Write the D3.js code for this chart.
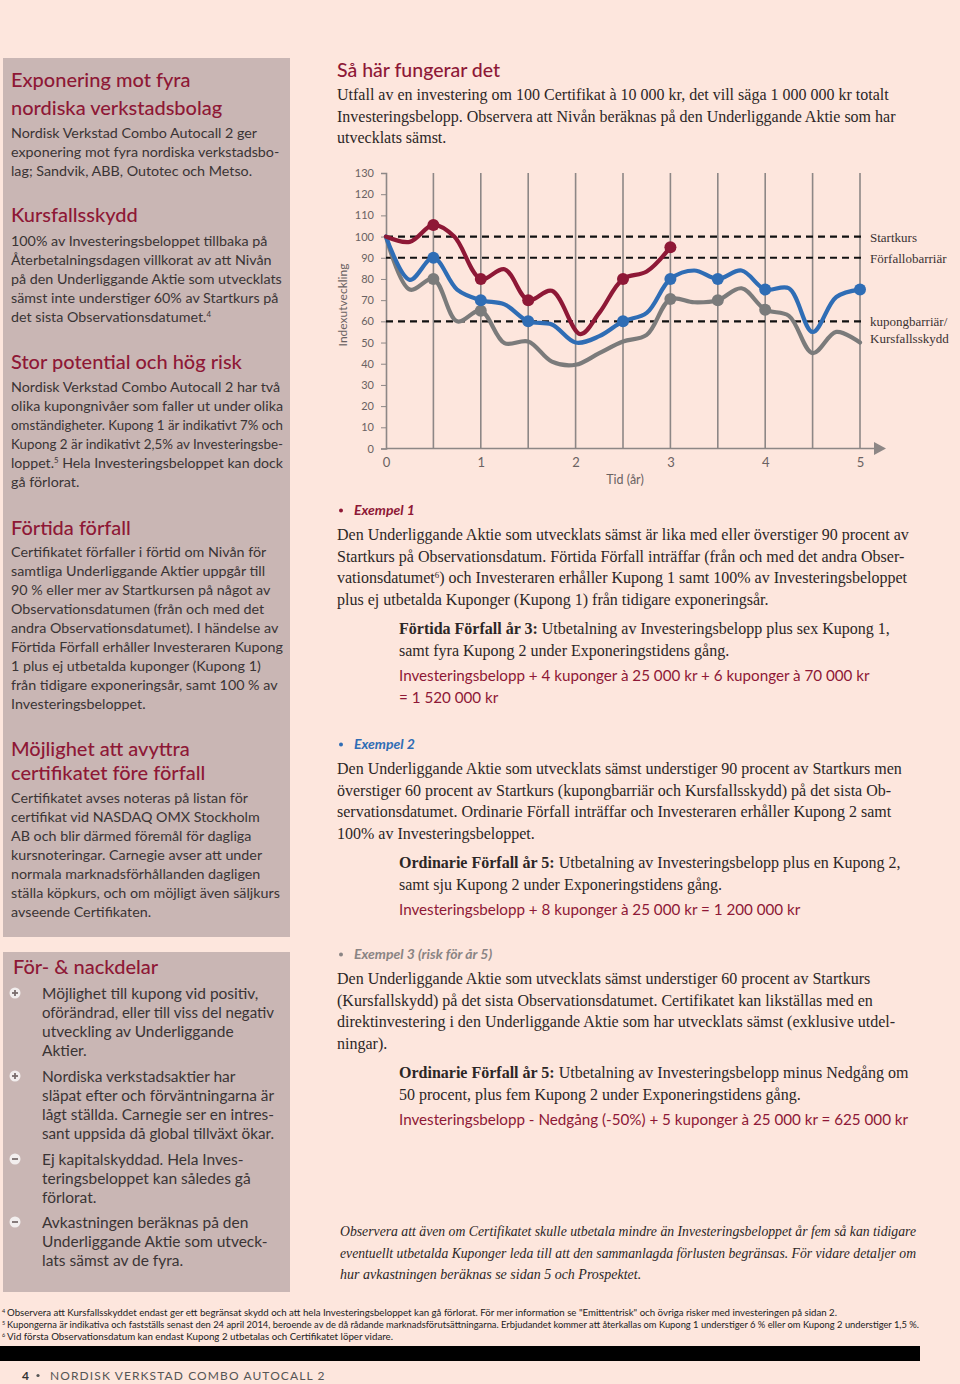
<!DOCTYPE html>
<html>
<head>
<meta charset="utf-8">
<script src="https://cdn.jsdelivr.net/npm/d3@7"></script>
<style>
  body { margin: 0; background: #fde6dd; }
  svg { display: block; }
</style>
</head>
<body>
<div id="page"></div>
<script>
// ---- chart data ----
var yTicks = [0, 10, 20, 30, 40, 50, 60, 70, 80, 90, 100, 110, 120, 130];
var xTicks = [0, 1, 2, 3, 4, 5];
var gridT = [0.5, 1, 1.5, 2, 2.5, 3, 3.5, 4, 4.5, 5];

var redT = [0, 0.25, 0.5, 0.72, 1, 1.25, 1.5, 1.75, 2.05, 2.25, 2.5, 2.75, 3];
var redV = [100, 97.5, 105.5, 100, 80, 84.6, 70, 74.4, 54, 64, 80, 83.5, 95];
var redMarks = [0.5, 1, 1.5, 2.5, 3];

var fullT = [0, 0.25, 0.5, 0.75, 1, 1.25, 1.5, 1.75, 2, 2.25, 2.5, 2.75, 3, 3.25, 3.5, 3.75, 4, 4.25, 4.5, 4.75, 5];
var blueV = [100, 79.6, 90, 75, 70, 68, 60, 58.5, 50, 53, 60, 64, 80, 84, 80, 84, 75, 75.6, 55, 71.5, 75];
var blueMarks = [0.5, 1, 1.5, 2.5, 3, 3.5, 4, 5];
var grayV = [100, 75, 80, 60, 65, 49.7, 50.5, 41, 39.5, 45, 50.5, 53.6, 70.5, 69, 70, 75.6, 65.5, 62.6, 45, 55, 50];
var grayMarks = [0.5, 1, 3, 3.5, 4];

var barriers = [100, 90, 60];
var barrierLabels = [["Startkurs"], ["Förfallobarriär"], ["kupongbarriär/", "Kursfallsskydd"]];

var RED = "#8e1836", BLUE = "#2f6db5", GRAY = "#7b7b7b";
var SANS = "'Gill Sans', Lato, 'Open Sans', sans-serif";
var SERIF = "'Liberation Serif', 'Times New Roman', serif";

var svg = d3.select("#page").append("svg")
  .attr("width", 960).attr("height", 1384);

svg.append("rect").attr("width", 960).attr("height", 1384).attr("fill", "#fde6dd");

// left panels
svg.append("rect").attr("x", 3).attr("y", 58).attr("width", 287).attr("height", 879).attr("fill", "#c9b6b4");
svg.append("rect").attr("x", 3).attr("y", 952).attr("width", 287).attr("height", 340).attr("fill", "#c9b6b4");

// text helper: each line either a string or list of segments
function block(g, x, y, dy, lines, st) {
  lines.forEach(function(line, i) {
    var t = g.append("text")
      .attr("x", x).attr("y", y + i * dy)
      .attr("font-family", st.family)
      .attr("font-size", st.size)
      .attr("fill", st.color)
      .attr("font-weight", st.weight || 400)
      .attr("font-style", st.style || "normal");
    if (typeof line === "string") line = [{t: line}];
    line.forEach(function(s) {
      var sp = t.append("tspan").text(s.t);
      if (s.b) sp.attr("font-weight", 700);
      if (s.i) sp.attr("font-style", "italic");
      if (s.c) sp.attr("fill", s.c);
      if (s.sup) sp.attr("font-size", st.size * 0.55).attr("baseline-shift", "super");
    });
    if (st.maxW) {
      var w = t.node().getComputedTextLength();
      if (w > st.maxW) t.attr("textLength", st.maxW).attr("lengthAdjust", "spacingAndGlyphs");
    }
  });
}

var hL = {family: SANS, size: 20, color: RED, weight: 500};
var bL = {family: SANS, size: 14.3, color: "#3a3434", maxW: 272};

block(svg, 11, 87, 28, ["Exponering mot fyra", "nordiska verkstadsbolag"], hL);
block(svg, 11, 138, 19, ["Nordisk Verkstad Combo Autocall 2 ger",
  "exponering mot fyra nordiska verkstadsbo-",
  "lag; Sandvik, ABB, Outotec och Metso."], bL);

block(svg, 11, 222, 28, ["Kursfallsskydd"], hL);
block(svg, 11, 246, 19, ["100% av Investeringsbeloppet tillbaka på",
  "Återbetalningsdagen villkorat av att Nivån",
  "på den Underliggande Aktie som utvecklats",
  "sämst inte understiger 60% av Startkurs på",
  [{t: "det sista Observationsdatumet."}, {t: "4", sup: true}]], bL);

block(svg, 11, 369, 28, ["Stor potential och hög risk"], hL);
block(svg, 11, 392, 19, ["Nordisk Verkstad Combo Autocall 2 har två",
  "olika kupongnivåer som faller ut under olika",
  "omständigheter. Kupong 1 är indikativt 7% och",
  "Kupong 2 är indikativt 2,5% av Investeringsbe-",
  [{t: "loppet."}, {t: "5", sup: true}, {t: " Hela Investeringsbeloppet kan dock"}],
  "gå förlorat."], bL);

block(svg, 11, 535, 28, ["Förtida förfall"], hL);
block(svg, 11, 557, 19, ["Certifikatet förfaller i förtid om Nivån för",
  "samtliga Underliggande Aktier uppgår till",
  "90 % eller mer av Startkursen på något av",
  "Observationsdatumen (från och med det",
  "andra Observationsdatumet). I händelse av",
  "Förtida Förfall erhåller Investeraren Kupong",
  "1 plus ej utbetalda kuponger (Kupong 1)",
  "från tidigare exponeringsår, samt 100 % av",
  "Investeringsbeloppet."], bL);

block(svg, 11, 756, 24, ["Möjlighet att avyttra", "certifikatet före förfall"], hL);
block(svg, 11, 803, 19, ["Certifikatet avses noteras på listan för",
  "certifikat vid NASDAQ OMX Stockholm",
  "AB och blir därmed föremål för dagliga",
  "kursnoteringar. Carnegie avser att under",
  "normala marknadsförhållanden dagligen",
  "ställa köpkurs, och om möjligt även säljkurs",
  "avseende Certifikaten."], bL);

block(svg, 13, 974, 28, ["För- & nackdelar"], hL);
var iL = {family: SANS, size: 15.5, color: "#3a3434", maxW: 232};
var items = [
  {sign: "+", y: 999, lines: ["Möjlighet till kupong vid positiv,", "oförändrad, eller till viss del negativ", "utveckling av Underliggande", "Aktier."]},
  {sign: "+", y: 1082, lines: ["Nordiska verkstadsaktier har", "släpat efter och förväntningarna är", "lågt ställda. Carnegie ser en intres-", "sant uppsida då global tillväxt ökar."]},
  {sign: "-", y: 1165, lines: ["Ej kapitalskyddad. Hela Inves-", "teringsbeloppet kan således gå", "förlorat."]},
  {sign: "-", y: 1228, lines: ["Avkastningen beräknas på den", "Underliggande Aktie som utveck-", "lats sämst av de fyra."]}
];
items.forEach(function(it) {
  var cy = it.y - 6;
  svg.append("circle").attr("cx", 15).attr("cy", cy).attr("r", 5.5).attr("fill", "#f2eeee");
  svg.append("line").attr("x1", 12).attr("x2", 18).attr("y1", cy).attr("y2", cy)
    .attr("stroke", "#7a6e6e").attr("stroke-width", 1.8);
  if (it.sign === "+") {
    svg.append("line").attr("x1", 15).attr("x2", 15).attr("y1", cy - 3).attr("y2", cy + 3)
      .attr("stroke", "#7a6e6e").attr("stroke-width", 1.8);
  }
  block(svg, 42, it.y, 19, it.lines, iL);
});

// ---- right column text ----
block(svg, 337, 77, 28, ["Så här fungerar det"], {family: SANS, size: 19.5, color: RED, weight: 500});
var sR = {family: SERIF, size: 16, color: "#2c2626", maxW: 582};
block(svg, 337, 100, 21.5, ["Utfall av en investering om 100 Certifikat à 10 000 kr, det vill säga 1 000 000 kr totalt",
  "Investeringsbelopp. Observera att Nivån beräknas på den Underliggande Aktie som har",
  "utvecklats sämst."], sR);

// ---- chart ----
var x = d3.scaleLinear().domain([0, 5]).range([386, 860]);
var y = d3.scaleLinear().domain([0, 130]).range([448.5, 173]);

var chart = svg.append("g");

chart.selectAll("line.grid").data(gridT).enter().append("line")
  .attr("class", "grid")
  .attr("x1", d => x(d)).attr("x2", d => x(d))
  .attr("y1", y(130)).attr("y2", y(0))
  .attr("stroke", "#8d8786").attr("stroke-width", 1.6);

var yAxis = chart.append("g")
  .attr("transform", "translate(" + x(0) + ",0)")
  .call(d3.axisLeft(y).tickValues(yTicks).tickSize(5).tickPadding(7));
yAxis.select(".domain").attr("stroke", "#8d8786").attr("stroke-width", 1.6);
yAxis.selectAll(".tick line").attr("stroke", "#8d8786");
yAxis.selectAll(".tick text").attr("fill", "#6a6262").attr("font-size", 11).attr("font-family", SANS);

var xAxis = chart.append("g")
  .attr("transform", "translate(0," + y(0) + ")")
  .call(d3.axisBottom(x).tickValues(xTicks).tickSize(0).tickPadding(9).tickFormat(d3.format("d")));
xAxis.select(".domain").remove();
xAxis.selectAll(".tick text").attr("fill", "#6a6262").attr("font-size", 13).attr("font-family", SANS);

chart.append("line").attr("x1", x(0)).attr("x2", 876).attr("y1", y(0)).attr("y2", y(0))
  .attr("stroke", "#8d8786").attr("stroke-width", 1.6);
chart.append("path").attr("d", "M874," + (y(0) - 6.5) + "L886," + y(0) + "L874," + (y(0) + 6.5) + "Z")
  .attr("fill", "#8d8786");

chart.append("text").attr("x", 625).attr("y", 484).attr("text-anchor", "middle")
  .attr("font-family", SANS).attr("font-size", 12.5).attr("fill", "#6a6262").text("Tid (år)");
chart.append("text").attr("transform", "translate(347,305) rotate(-90)").attr("text-anchor", "middle")
  .attr("font-family", SANS).attr("font-size", 12).attr("fill", "#6a6262").text("Indexutveckling");

// barriers
chart.selectAll("line.bar").data(barriers).enter().append("line")
  .attr("class", "bar")
  .attr("x1", x(0)).attr("x2", 864)
  .attr("y1", d => y(d)).attr("y2", d => y(d))
  .attr("stroke", "#111").attr("stroke-width", 2.2).attr("stroke-dasharray", "7,5");
barriers.forEach(function(b, i) {
  block(chart, 870, y(b) + 5, 17, barrierLabels[i], {family: SERIF, size: 13, color: "#3a3232"});
});

var line = d3.line().curve(d3.curveCatmullRom.alpha(0.5)).x(d => x(d[0])).y(d => y(d[1]));
function series(ts, vs, marks, color) {
  var pts = ts.map((t, i) => [t, vs[i]]);
  chart.append("path").datum(pts).attr("d", line)
    .attr("fill", "none").attr("stroke", color).attr("stroke-width", 4.2)
    .attr("stroke-linejoin", "round").attr("stroke-linecap", "round");
  chart.selectAll(null).data(pts.filter(p => marks.indexOf(p[0]) >= 0)).enter().append("circle")
    .attr("cx", d => x(d[0])).attr("cy", d => y(d[1])).attr("r", 6).attr("fill", color);
}
series(fullT, grayV, grayMarks, GRAY);
series(fullT, blueV, blueMarks, BLUE);
series(redT, redV, redMarks, RED);

// ---- examples ----
function example(yy, label, color, body, payLines, redLines) {
  svg.append("circle").attr("cx", 341).attr("cy", yy - 4.5).attr("r", 2).attr("fill", color);
  svg.append("text").attr("x", 354).attr("y", yy).attr("font-family", SANS).attr("font-size", 14)
    .attr("font-weight", 700).attr("font-style", "italic").attr("fill", color).text(label);
  block(svg, 337, yy + 25, 21.6, body, sR);
  var py = yy + 25 + 21.6 * body.length + 7.5;
  block(svg, 399, py, 21.6, payLines, {family: SERIF, size: 16, color: "#2c2626", maxW: 520});
  block(svg, 399, py + 21.6 * payLines.length + 4, 21.6, redLines, {family: SANS, size: 15.2, color: RED, maxW: 520});
}

example(515, "Exempel 1", RED, [
  "Den Underliggande Aktie som utvecklats sämst är lika med eller överstiger 90 procent av",
  "Startkurs på Observationsdatum. Förtida Förfall inträffar (från och med det andra Obser-",
  [{t: "vationsdatumet"}, {t: "6", sup: true}, {t: ") och Investeraren erhåller Kupong 1 samt 100% av Investeringsbeloppet"}],
  "plus ej utbetalda Kuponger (Kupong 1) från tidigare exponeringsår."],
  [[{t: "Förtida Förfall år 3:", b: true}, {t: " Utbetalning av Investeringsbelopp plus sex Kupong 1,"}],
   "samt fyra Kupong 2 under Exponeringstidens gång."],
  ["Investeringsbelopp + 4 kuponger à 25 000 kr + 6 kuponger à 70 000 kr", "= 1 520 000 kr"]);

example(749, "Exempel 2", BLUE, [
  "Den Underliggande Aktie som utvecklats sämst understiger 90 procent av Startkurs men",
  "överstiger 60 procent av Startkurs (kupongbarriär och Kursfallsskydd) på det sista Ob-",
  "servationsdatumet. Ordinarie Förfall inträffar och Investeraren erhåller Kupong 2 samt",
  "100% av Investeringsbeloppet."],
  [[{t: "Ordinarie Förfall år 5:", b: true}, {t: " Utbetalning av Investeringsbelopp plus en Kupong 2,"}],
   "samt sju Kupong 2 under Exponeringstidens gång."],
  ["Investeringsbelopp + 8 kuponger à 25 000 kr = 1 200 000 kr"]);

example(959, "Exempel 3 (risk för år 5)", "#8a8484", [
  "Den Underliggande Aktie som utvecklats sämst understiger 60 procent av Startkurs",
  "(Kursfallskydd) på det sista Observationsdatumet. Certifikatet kan likställas med en",
  "direktinvestering i den Underliggande Aktie som har utvecklats sämst (exklusive utdel-",
  "ningar)."],
  [[{t: "Ordinarie Förfall år 5:", b: true}, {t: " Utbetalning av Investeringsbelopp minus Nedgång om"}],
   "50 procent, plus fem Kupong 2 under Exponeringstidens gång."],
  ["Investeringsbelopp - Nedgång (-50%) + 5 kuponger à 25 000 kr = 625 000 kr"]);

block(svg, 340, 1236, 21.5, [
  "Observera att även om Certifikatet skulle utbetala mindre än Investeringsbeloppet år fem så kan tidigare",
  "eventuellt utbetalda Kuponger leda till att den sammanlagda förlusten begränsas. För vidare detaljer om",
  "hur avkastningen beräknas se sidan 5 och Prospektet."],
  {family: SERIF, size: 14, color: "#2c2626", style: "italic", maxW: 576});

// ---- footnotes & footer ----
var notes = [
  ["4", "Observera att Kursfallsskyddet endast ger ett begränsat skydd och att hela Investeringsbeloppet kan gå förlorat. För mer information se \"Emittentrisk\" och övriga risker med investeringen på sidan 2."],
  ["5", "Kupongerna är indikativa och fastställs senast den 24 april 2014, beroende av de då rådande marknadsförutsättningarna. Erbjudandet kommer att återkallas om Kupong 1 understiger 6 % eller om Kupong 2 understiger 1,5 %."],
  ["6", "Vid första Observationsdatum kan endast Kupong 2 utbetalas och Certifikatet löper vidare."]
];
var noteW = [830, 912, 386];
notes.forEach(function(n, i) {
  svg.append("text").attr("x", 2).attr("y", 1313 + i * 12).attr("font-family", SANS).attr("font-size", 5.5)
    .attr("fill", "#222").text(n[0]);
  svg.append("text").attr("x", 7).attr("y", 1316 + i * 12).attr("font-family", SANS).attr("font-size", 9)
    .attr("fill", "#222").attr("textLength", noteW[i]).attr("lengthAdjust", "spacingAndGlyphs").text(n[1]);
});

svg.append("rect").attr("x", 0).attr("y", 1346).attr("width", 920).attr("height", 15).attr("fill", "#000");

svg.append("text").attr("x", 22).attr("y", 1380).attr("font-family", SANS).attr("font-size", 12)
  .attr("font-weight", 700).attr("fill", "#333").text("4");
svg.append("circle").attr("cx", 38).attr("cy", 1375.5).attr("r", 1.6).attr("fill", "#555");
svg.append("text").attr("x", 50).attr("y", 1380).attr("font-family", SANS).attr("font-size", 12)
  .attr("letter-spacing", 1.1).attr("fill", "#555").text("NORDISK VERKSTAD COMBO AUTOCALL 2");
</script>
</body>
</html>
